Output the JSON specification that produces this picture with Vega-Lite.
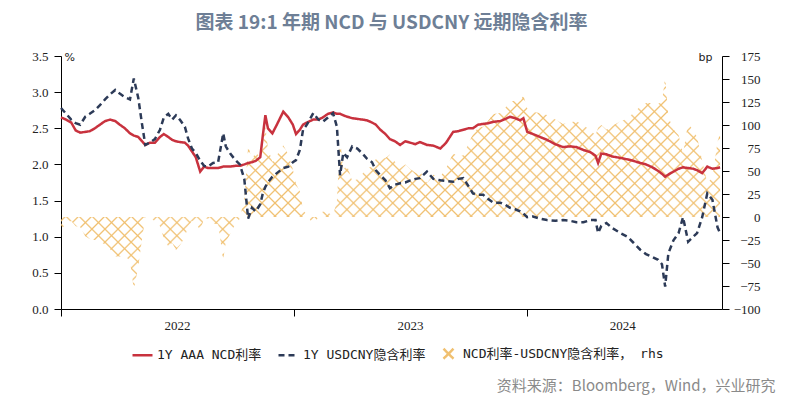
{
  "$schema": "https://vega.github.io/schema/vega-lite/v6.json",
  "width": 661,
  "height": 253,
  "autosize": {"type": "none"},
  "padding": {"left": 61, "top": 56, "right": 64, "bottom": 95},
  "background": "white",
  "title": {
    "text": "图表 19:1 年期 NCD 与 USDCNY 远期隐含利率",
    "anchor": "middle",
    "frame": "group",
    "font": "Noto Sans CJK SC",
    "fontSize": 19,
    "fontWeight": "bold",
    "color": "#6e7f96",
    "offset": 17
  },
  "config": {
    "view": {"stroke": null},
    "legend": {
      "orient": "none",
      "legendX": 70,
      "legendY": 286,
      "direction": "horizontal",
      "symbolType": "stroke",
      "symbolSize": 400,
      "symbolStrokeWidth": 2.5,
      "labelFont": "DejaVu Sans Mono, Noto Sans CJK SC",
      "labelFontSize": 13,
      "labelColor": "#222",
      "labelOffset": 3,
      "columnPadding": 11,
      "labelLimit": 400
    }
  },
  "data": {
    "values": [
      {"d":"2022-01-01","ncd":2.65,"usd":2.78,"spread":-13},
      {"d":"2022-01-09","ncd":2.62,"usd":2.70,"spread":-8},
      {"d":"2022-01-17","ncd":2.58,"usd":2.62,"spread":-4},
      {"d":"2022-01-24","ncd":2.47,"usd":2.57,"spread":-10},
      {"d":"2022-01-31","ncd":2.44,"usd":2.55,"spread":-11},
      {"d":"2022-02-08","ncd":2.45,"usd":2.66,"spread":-21},
      {"d":"2022-02-15","ncd":2.46,"usd":2.70,"spread":-24},
      {"d":"2022-02-23","ncd":2.50,"usd":2.75,"spread":-25},
      {"d":"2022-03-03","ncd":2.55,"usd":2.82,"spread":-27},
      {"d":"2022-03-11","ncd":2.60,"usd":2.90,"spread":-30},
      {"d":"2022-03-19","ncd":2.62,"usd":2.97,"spread":-35},
      {"d":"2022-03-27","ncd":2.60,"usd":3.03,"spread":-43},
      {"d":"2022-04-03","ncd":2.55,"usd":2.98,"spread":-43},
      {"d":"2022-04-11","ncd":2.50,"usd":2.93,"spread":-43},
      {"d":"2022-04-19","ncd":2.43,"usd":2.90,"spread":-47},
      {"d":"2022-04-25","ncd":2.40,"usd":3.19,"spread":-79},
      {"d":"2022-05-02","ncd":2.38,"usd":2.92,"spread":-54},
      {"d":"2022-05-08","ncd":2.32,"usd":2.55,"spread":-23},
      {"d":"2022-05-13","ncd":2.27,"usd":2.27,"spread":0},
      {"d":"2022-05-20","ncd":2.30,"usd":2.30,"spread":0},
      {"d":"2022-05-28","ncd":2.30,"usd":2.35,"spread":-5},
      {"d":"2022-06-05","ncd":2.38,"usd":2.48,"spread":-10},
      {"d":"2022-06-11","ncd":2.42,"usd":2.65,"spread":-23},
      {"d":"2022-06-18","ncd":2.38,"usd":2.70,"spread":-32},
      {"d":"2022-06-24","ncd":2.34,"usd":2.62,"spread":-28},
      {"d":"2022-06-30","ncd":2.32,"usd":2.68,"spread":-36},
      {"d":"2022-07-06","ncd":2.31,"usd":2.62,"spread":-31},
      {"d":"2022-07-14","ncd":2.30,"usd":2.52,"spread":-22},
      {"d":"2022-07-19","ncd":2.26,"usd":2.36,"spread":-10},
      {"d":"2022-07-25","ncd":2.18,"usd":2.22,"spread":-4},
      {"d":"2022-07-31","ncd":2.10,"usd":2.16,"spread":-6},
      {"d":"2022-08-07","ncd":1.90,"usd":2.05,"spread":-15},
      {"d":"2022-08-13","ncd":1.97,"usd":1.98,"spread":-1},
      {"d":"2022-08-19","ncd":1.95,"usd":1.97,"spread":-2},
      {"d":"2022-08-27","ncd":1.95,"usd":2.02,"spread":-7},
      {"d":"2022-09-04","ncd":1.95,"usd":2.03,"spread":-8},
      {"d":"2022-09-12","ncd":1.97,"usd":2.43,"spread":-46},
      {"d":"2022-09-16","ncd":1.97,"usd":2.25,"spread":-28},
      {"d":"2022-09-23","ncd":1.97,"usd":2.15,"spread":-18},
      {"d":"2022-10-01","ncd":1.98,"usd":2.06,"spread":-8},
      {"d":"2022-10-08","ncd":1.98,"usd":2.00,"spread":-2},
      {"d":"2022-10-15","ncd":2.00,"usd":1.80,"spread":20},
      {"d":"2022-10-21","ncd":2.02,"usd":1.25,"spread":77},
      {"d":"2022-10-27","ncd":2.03,"usd":1.40,"spread":63},
      {"d":"2022-11-02","ncd":2.05,"usd":1.35,"spread":70},
      {"d":"2022-11-09","ncd":2.10,"usd":1.45,"spread":65},
      {"d":"2022-11-13","ncd":2.40,"usd":1.60,"spread":80},
      {"d":"2022-11-17","ncd":2.68,"usd":1.69,"spread":99},
      {"d":"2022-11-21","ncd":2.50,"usd":1.75,"spread":75},
      {"d":"2022-11-28","ncd":2.43,"usd":1.83,"spread":60},
      {"d":"2022-12-05","ncd":2.55,"usd":1.88,"spread":67},
      {"d":"2022-12-15","ncd":2.73,"usd":1.95,"spread":78},
      {"d":"2022-12-23","ncd":2.65,"usd":1.97,"spread":68},
      {"d":"2022-12-30","ncd":2.55,"usd":2.03,"spread":52},
      {"d":"2023-01-04","ncd":2.42,"usd":2.06,"spread":36},
      {"d":"2023-01-10","ncd":2.48,"usd":2.20,"spread":28},
      {"d":"2023-01-15","ncd":2.55,"usd":2.48,"spread":7},
      {"d":"2023-01-21","ncd":2.58,"usd":2.55,"spread":3},
      {"d":"2023-01-31","ncd":2.62,"usd":2.71,"spread":-9},
      {"d":"2023-02-08","ncd":2.62,"usd":2.62,"spread":0},
      {"d":"2023-02-15","ncd":2.65,"usd":2.59,"spread":6},
      {"d":"2023-02-23","ncd":2.70,"usd":2.65,"spread":5},
      {"d":"2023-03-03","ncd":2.72,"usd":2.71,"spread":1},
      {"d":"2023-03-09","ncd":2.70,"usd":2.52,"spread":18},
      {"d":"2023-03-14","ncd":2.70,"usd":1.85,"spread":85},
      {"d":"2023-03-19","ncd":2.68,"usd":2.16,"spread":52},
      {"d":"2023-03-25","ncd":2.66,"usd":2.10,"spread":56},
      {"d":"2023-04-02","ncd":2.64,"usd":2.25,"spread":39},
      {"d":"2023-04-10","ncd":2.63,"usd":2.22,"spread":41},
      {"d":"2023-04-18","ncd":2.62,"usd":2.15,"spread":47},
      {"d":"2023-04-25","ncd":2.61,"usd":2.08,"spread":53},
      {"d":"2023-05-03","ncd":2.58,"usd":2.03,"spread":55},
      {"d":"2023-05-09","ncd":2.55,"usd":1.92,"spread":63},
      {"d":"2023-05-16","ncd":2.48,"usd":1.85,"spread":63},
      {"d":"2023-05-24","ncd":2.42,"usd":1.78,"spread":64},
      {"d":"2023-05-31","ncd":2.35,"usd":1.67,"spread":68},
      {"d":"2023-06-08","ncd":2.32,"usd":1.72,"spread":60},
      {"d":"2023-06-16","ncd":2.27,"usd":1.74,"spread":53},
      {"d":"2023-06-24","ncd":2.32,"usd":1.75,"spread":57},
      {"d":"2023-07-02","ncd":2.30,"usd":1.78,"spread":52},
      {"d":"2023-07-10","ncd":2.28,"usd":1.80,"spread":48},
      {"d":"2023-07-17","ncd":2.31,"usd":1.81,"spread":50},
      {"d":"2023-07-28","ncd":2.27,"usd":1.90,"spread":37},
      {"d":"2023-08-07","ncd":2.26,"usd":1.80,"spread":46},
      {"d":"2023-08-18","ncd":2.22,"usd":1.78,"spread":44},
      {"d":"2023-08-27","ncd":2.30,"usd":1.77,"spread":53},
      {"d":"2023-09-07","ncd":2.45,"usd":1.76,"spread":69},
      {"d":"2023-09-15","ncd":2.46,"usd":1.80,"spread":66},
      {"d":"2023-09-23","ncd":2.48,"usd":1.81,"spread":67},
      {"d":"2023-10-01","ncd":2.50,"usd":1.70,"spread":80},
      {"d":"2023-10-08","ncd":2.50,"usd":1.60,"spread":90},
      {"d":"2023-10-16","ncd":2.55,"usd":1.58,"spread":97},
      {"d":"2023-10-24","ncd":2.56,"usd":1.58,"spread":98},
      {"d":"2023-11-01","ncd":2.57,"usd":1.52,"spread":105},
      {"d":"2023-11-09","ncd":2.59,"usd":1.47,"spread":112},
      {"d":"2023-11-20","ncd":2.60,"usd":1.47,"spread":113},
      {"d":"2023-11-28","ncd":2.63,"usd":1.44,"spread":119},
      {"d":"2023-12-05","ncd":2.66,"usd":1.40,"spread":126},
      {"d":"2023-12-13","ncd":2.64,"usd":1.38,"spread":126},
      {"d":"2023-12-21","ncd":2.61,"usd":1.35,"spread":126},
      {"d":"2023-12-26","ncd":2.64,"usd":1.32,"spread":132},
      {"d":"2024-01-01","ncd":2.45,"usd":1.27,"spread":118},
      {"d":"2024-01-10","ncd":2.42,"usd":1.28,"spread":114},
      {"d":"2024-01-21","ncd":2.38,"usd":1.25,"spread":113},
      {"d":"2024-02-01","ncd":2.34,"usd":1.23,"spread":111},
      {"d":"2024-02-14","ncd":2.28,"usd":1.22,"spread":106},
      {"d":"2024-02-26","ncd":2.24,"usd":1.23,"spread":101},
      {"d":"2024-03-08","ncd":2.25,"usd":1.22,"spread":103},
      {"d":"2024-03-18","ncd":2.24,"usd":1.20,"spread":104},
      {"d":"2024-03-29","ncd":2.20,"usd":1.20,"spread":100},
      {"d":"2024-04-09","ncd":2.17,"usd":1.23,"spread":94},
      {"d":"2024-04-17","ncd":2.12,"usd":1.23,"spread":89},
      {"d":"2024-04-21","ncd":2.02,"usd":1.05,"spread":97},
      {"d":"2024-04-26","ncd":2.15,"usd":1.15,"spread":100},
      {"d":"2024-05-04","ncd":2.14,"usd":1.19,"spread":95},
      {"d":"2024-05-13","ncd":2.11,"usd":1.12,"spread":99},
      {"d":"2024-05-26","ncd":2.09,"usd":1.05,"spread":104},
      {"d":"2024-06-06","ncd":2.07,"usd":1.00,"spread":107},
      {"d":"2024-06-15","ncd":2.05,"usd":0.92,"spread":113},
      {"d":"2024-06-26","ncd":2.02,"usd":0.82,"spread":120},
      {"d":"2024-07-05","ncd":2.00,"usd":0.76,"spread":124},
      {"d":"2024-07-15","ncd":1.96,"usd":0.72,"spread":124},
      {"d":"2024-07-24","ncd":1.91,"usd":0.68,"spread":123},
      {"d":"2024-07-30","ncd":1.87,"usd":0.62,"spread":125},
      {"d":"2024-08-04","ncd":1.83,"usd":0.31,"spread":152},
      {"d":"2024-08-09","ncd":1.86,"usd":0.77,"spread":109},
      {"d":"2024-08-17","ncd":1.90,"usd":0.95,"spread":95},
      {"d":"2024-08-25","ncd":1.94,"usd":1.05,"spread":89},
      {"d":"2024-09-01","ncd":1.96,"usd":1.27,"spread":69},
      {"d":"2024-09-09","ncd":1.95,"usd":0.93,"spread":102},
      {"d":"2024-09-17","ncd":1.94,"usd":1.00,"spread":94},
      {"d":"2024-09-23","ncd":1.92,"usd":1.05,"spread":87},
      {"d":"2024-10-01","ncd":1.88,"usd":1.27,"spread":61},
      {"d":"2024-10-09","ncd":1.97,"usd":1.60,"spread":37},
      {"d":"2024-10-17","ncd":1.94,"usd":1.51,"spread":43},
      {"d":"2024-10-25","ncd":1.95,"usd":1.13,"spread":82},
      {"d":"2024-10-29","ncd":1.96,"usd":1.05,"spread":91}
    ]
  },
  "encoding": {
    "x": {
      "field": "d",
      "type": "temporal",
      "scale": {"domain": [{"year": 2022, "month": 1, "date": 1}, {"year": 2024, "month": 11, "date": 1}]},
      "axis": {
        "values": [{"year": 2022, "month": 1, "date": 1}, {"year": 2023, "month": 1, "date": 1}, {"year": 2024, "month": 1, "date": 1}],
        "format": "%Y",
        "labelFont": "Liberation Serif",
        "labelFontSize": 13,
        "labelColor": "#222",
        "labelPadding": 3,
        "labelAlign": "center",
        "labelFlush": false,
        "labelOverlap": false,
        "labelOffset": {"condition": {"test": "datum.value >= datetime(2024,0,1)", "value": 95}, "value": 116},
        "tickSize": 7,
        "tickColor": "#000",
        "domainColor": "#000",
        "grid": false,
        "title": "资料来源：Bloomberg，Wind，兴业研究",
        "titleX": 714,
        "titleY": 76,
        "titleAlign": "right",
        "titleAnchor": "end",
        "titleBaseline": "middle",
        "titleFont": "Noto Sans CJK SC",
        "titleFontSize": 15,
        "titleFontWeight": "normal",
        "titleColor": "#8a8a8a"
      }
    }
  },
  "layer": [
    {
      "mark": {
        "type": "area",
        "fill": {"gradient": "linear", "x1": 0, "y1": 1, "x2": 1.198, "y2": 0.613, "stops": [
          {"offset":0,"color":"#f0c070"},{"offset":0.002,"color":"rgba(240,192,112,0)"},{"offset":0.013,"color":"rgba(240,192,112,0)"},
          {"offset":0.015,"color":"#f0c070"},{"offset":0.017,"color":"rgba(240,192,112,0)"},{"offset":0.028,"color":"rgba(240,192,112,0)"},
          {"offset":0.03,"color":"#f0c070"},{"offset":0.032,"color":"rgba(240,192,112,0)"},{"offset":0.043,"color":"rgba(240,192,112,0)"},
          {"offset":0.045,"color":"#f0c070"},{"offset":0.047,"color":"rgba(240,192,112,0)"},{"offset":0.058,"color":"rgba(240,192,112,0)"},
          {"offset":0.06,"color":"#f0c070"},{"offset":0.062,"color":"rgba(240,192,112,0)"},{"offset":0.073,"color":"rgba(240,192,112,0)"},
          {"offset":0.075,"color":"#f0c070"},{"offset":0.077,"color":"rgba(240,192,112,0)"},{"offset":0.088,"color":"rgba(240,192,112,0)"},
          {"offset":0.09,"color":"#f0c070"},{"offset":0.092,"color":"rgba(240,192,112,0)"},{"offset":0.103,"color":"rgba(240,192,112,0)"},
          {"offset":0.105,"color":"#f0c070"},{"offset":0.107,"color":"rgba(240,192,112,0)"},{"offset":0.118,"color":"rgba(240,192,112,0)"},
          {"offset":0.12,"color":"#f0c070"},{"offset":0.122,"color":"rgba(240,192,112,0)"},{"offset":0.133,"color":"rgba(240,192,112,0)"},
          {"offset":0.135,"color":"#f0c070"},{"offset":0.137,"color":"rgba(240,192,112,0)"},{"offset":0.148,"color":"rgba(240,192,112,0)"},
          {"offset":0.15,"color":"#f0c070"},{"offset":0.152,"color":"rgba(240,192,112,0)"},{"offset":0.163,"color":"rgba(240,192,112,0)"},
          {"offset":0.165,"color":"#f0c070"},{"offset":0.167,"color":"rgba(240,192,112,0)"},{"offset":0.178,"color":"rgba(240,192,112,0)"},
          {"offset":0.18,"color":"#f0c070"},{"offset":0.182,"color":"rgba(240,192,112,0)"},{"offset":0.193,"color":"rgba(240,192,112,0)"},
          {"offset":0.195,"color":"#f0c070"},{"offset":0.197,"color":"rgba(240,192,112,0)"},{"offset":0.208,"color":"rgba(240,192,112,0)"},
          {"offset":0.21,"color":"#f0c070"},{"offset":0.212,"color":"rgba(240,192,112,0)"},{"offset":0.223,"color":"rgba(240,192,112,0)"},
          {"offset":0.225,"color":"#f0c070"},{"offset":0.227,"color":"rgba(240,192,112,0)"},{"offset":0.238,"color":"rgba(240,192,112,0)"},
          {"offset":0.24,"color":"#f0c070"},{"offset":0.242,"color":"rgba(240,192,112,0)"},{"offset":0.253,"color":"rgba(240,192,112,0)"},
          {"offset":0.255,"color":"#f0c070"},{"offset":0.257,"color":"rgba(240,192,112,0)"},{"offset":0.268,"color":"rgba(240,192,112,0)"},
          {"offset":0.27,"color":"#f0c070"},{"offset":0.272,"color":"rgba(240,192,112,0)"},{"offset":0.283,"color":"rgba(240,192,112,0)"},
          {"offset":0.285,"color":"#f0c070"},{"offset":0.287,"color":"rgba(240,192,112,0)"},{"offset":0.298,"color":"rgba(240,192,112,0)"},
          {"offset":0.3,"color":"#f0c070"},{"offset":0.302,"color":"rgba(240,192,112,0)"},{"offset":0.313,"color":"rgba(240,192,112,0)"},
          {"offset":0.315,"color":"#f0c070"},{"offset":0.317,"color":"rgba(240,192,112,0)"},{"offset":0.328,"color":"rgba(240,192,112,0)"},
          {"offset":0.33,"color":"#f0c070"},{"offset":0.332,"color":"rgba(240,192,112,0)"},{"offset":0.343,"color":"rgba(240,192,112,0)"},
          {"offset":0.345,"color":"#f0c070"},{"offset":0.347,"color":"rgba(240,192,112,0)"},{"offset":0.358,"color":"rgba(240,192,112,0)"},
          {"offset":0.36,"color":"#f0c070"},{"offset":0.362,"color":"rgba(240,192,112,0)"},{"offset":0.373,"color":"rgba(240,192,112,0)"},
          {"offset":0.375,"color":"#f0c070"},{"offset":0.377,"color":"rgba(240,192,112,0)"},{"offset":0.388,"color":"rgba(240,192,112,0)"},
          {"offset":0.39,"color":"#f0c070"},{"offset":0.392,"color":"rgba(240,192,112,0)"},{"offset":0.403,"color":"rgba(240,192,112,0)"},
          {"offset":0.405,"color":"#f0c070"},{"offset":0.407,"color":"rgba(240,192,112,0)"},{"offset":0.418,"color":"rgba(240,192,112,0)"},
          {"offset":0.42,"color":"#f0c070"},{"offset":0.422,"color":"rgba(240,192,112,0)"},{"offset":0.433,"color":"rgba(240,192,112,0)"},
          {"offset":0.435,"color":"#f0c070"},{"offset":0.437,"color":"rgba(240,192,112,0)"},{"offset":0.448,"color":"rgba(240,192,112,0)"},
          {"offset":0.45,"color":"#f0c070"},{"offset":0.452,"color":"rgba(240,192,112,0)"},{"offset":0.463,"color":"rgba(240,192,112,0)"},
          {"offset":0.465,"color":"#f0c070"},{"offset":0.467,"color":"rgba(240,192,112,0)"},{"offset":0.478,"color":"rgba(240,192,112,0)"},
          {"offset":0.48,"color":"#f0c070"},{"offset":0.482,"color":"rgba(240,192,112,0)"},{"offset":0.493,"color":"rgba(240,192,112,0)"},
          {"offset":0.495,"color":"#f0c070"},{"offset":0.497,"color":"rgba(240,192,112,0)"},{"offset":0.508,"color":"rgba(240,192,112,0)"},
          {"offset":0.51,"color":"#f0c070"},{"offset":0.512,"color":"rgba(240,192,112,0)"},{"offset":0.523,"color":"rgba(240,192,112,0)"},
          {"offset":0.525,"color":"#f0c070"},{"offset":0.527,"color":"rgba(240,192,112,0)"},{"offset":0.538,"color":"rgba(240,192,112,0)"},
          {"offset":0.54,"color":"#f0c070"},{"offset":0.542,"color":"rgba(240,192,112,0)"},{"offset":0.553,"color":"rgba(240,192,112,0)"},
          {"offset":0.555,"color":"#f0c070"},{"offset":0.557,"color":"rgba(240,192,112,0)"},{"offset":0.568,"color":"rgba(240,192,112,0)"},
          {"offset":0.57,"color":"#f0c070"},{"offset":0.572,"color":"rgba(240,192,112,0)"},{"offset":0.583,"color":"rgba(240,192,112,0)"},
          {"offset":0.585,"color":"#f0c070"},{"offset":0.587,"color":"rgba(240,192,112,0)"},{"offset":0.598,"color":"rgba(240,192,112,0)"},
          {"offset":0.6,"color":"#f0c070"},{"offset":0.602,"color":"rgba(240,192,112,0)"},{"offset":0.613,"color":"rgba(240,192,112,0)"},
          {"offset":0.615,"color":"#f0c070"},{"offset":0.617,"color":"rgba(240,192,112,0)"},{"offset":0.628,"color":"rgba(240,192,112,0)"},
          {"offset":0.63,"color":"#f0c070"},{"offset":0.632,"color":"rgba(240,192,112,0)"},{"offset":0.643,"color":"rgba(240,192,112,0)"},
          {"offset":0.645,"color":"#f0c070"},{"offset":0.647,"color":"rgba(240,192,112,0)"},{"offset":0.658,"color":"rgba(240,192,112,0)"},
          {"offset":0.66,"color":"#f0c070"},{"offset":0.662,"color":"rgba(240,192,112,0)"},{"offset":0.673,"color":"rgba(240,192,112,0)"},
          {"offset":0.675,"color":"#f0c070"},{"offset":0.677,"color":"rgba(240,192,112,0)"},{"offset":0.688,"color":"rgba(240,192,112,0)"},
          {"offset":0.69,"color":"#f0c070"},{"offset":0.692,"color":"rgba(240,192,112,0)"},{"offset":0.703,"color":"rgba(240,192,112,0)"},
          {"offset":0.705,"color":"#f0c070"},{"offset":0.707,"color":"rgba(240,192,112,0)"},{"offset":0.718,"color":"rgba(240,192,112,0)"},
          {"offset":0.72,"color":"#f0c070"},{"offset":0.722,"color":"rgba(240,192,112,0)"},{"offset":0.733,"color":"rgba(240,192,112,0)"},
          {"offset":0.735,"color":"#f0c070"},{"offset":0.737,"color":"rgba(240,192,112,0)"},{"offset":0.748,"color":"rgba(240,192,112,0)"},
          {"offset":0.75,"color":"#f0c070"},{"offset":0.752,"color":"rgba(240,192,112,0)"},{"offset":0.763,"color":"rgba(240,192,112,0)"},
          {"offset":0.765,"color":"#f0c070"},{"offset":0.767,"color":"rgba(240,192,112,0)"},{"offset":0.778,"color":"rgba(240,192,112,0)"},
          {"offset":0.78,"color":"#f0c070"},{"offset":0.782,"color":"rgba(240,192,112,0)"},{"offset":0.793,"color":"rgba(240,192,112,0)"},
          {"offset":0.795,"color":"#f0c070"},{"offset":0.797,"color":"rgba(240,192,112,0)"},{"offset":0.808,"color":"rgba(240,192,112,0)"},
          {"offset":0.81,"color":"#f0c070"},{"offset":0.812,"color":"rgba(240,192,112,0)"},{"offset":0.823,"color":"rgba(240,192,112,0)"},
          {"offset":0.825,"color":"#f0c070"},{"offset":0.827,"color":"rgba(240,192,112,0)"},{"offset":0.838,"color":"rgba(240,192,112,0)"},
          {"offset":0.84,"color":"#f0c070"},{"offset":0.842,"color":"rgba(240,192,112,0)"},{"offset":0.853,"color":"rgba(240,192,112,0)"},
          {"offset":0.855,"color":"#f0c070"},{"offset":0.857,"color":"rgba(240,192,112,0)"},{"offset":0.868,"color":"rgba(240,192,112,0)"},
          {"offset":0.87,"color":"#f0c070"},{"offset":0.872,"color":"rgba(240,192,112,0)"},{"offset":0.883,"color":"rgba(240,192,112,0)"},
          {"offset":0.885,"color":"#f0c070"},{"offset":0.887,"color":"rgba(240,192,112,0)"},{"offset":0.898,"color":"rgba(240,192,112,0)"},
          {"offset":0.9,"color":"#f0c070"},{"offset":0.902,"color":"rgba(240,192,112,0)"},{"offset":0.913,"color":"rgba(240,192,112,0)"},
          {"offset":0.915,"color":"#f0c070"},{"offset":0.917,"color":"rgba(240,192,112,0)"},{"offset":0.928,"color":"rgba(240,192,112,0)"},
          {"offset":0.93,"color":"#f0c070"},{"offset":0.932,"color":"rgba(240,192,112,0)"},{"offset":0.943,"color":"rgba(240,192,112,0)"},
          {"offset":0.945,"color":"#f0c070"},{"offset":0.947,"color":"rgba(240,192,112,0)"},{"offset":0.958,"color":"rgba(240,192,112,0)"},
          {"offset":0.96,"color":"#f0c070"},{"offset":0.962,"color":"rgba(240,192,112,0)"},{"offset":0.973,"color":"rgba(240,192,112,0)"},
          {"offset":0.975,"color":"#f0c070"},{"offset":0.977,"color":"rgba(240,192,112,0)"},{"offset":0.988,"color":"rgba(240,192,112,0)"},
          {"offset":0.99,"color":"#f0c070"},{"offset":0.992,"color":"rgba(240,192,112,0)"},{"offset":1,"color":"rgba(240,192,112,0)"}
        ]}
      },
      "encoding": {
        "y": {
          "field": "spread",
          "type": "quantitative",
          "scale": {"domain": [-100, 175], "nice": false, "zero": false},
          "axis": {
            "orient": "right",
            "values": [-100, -75, -50, -25, 0, 25, 50, 75, 100, 125, 150, 175],
            "labelFont": "Liberation Serif",
            "labelFontSize": 13,
            "labelColor": "#222",
            "labelAlign": "right",
            "labelPadding": 31,
            "tickSize": 7,
            "tickColor": "#000",
            "domainColor": "#000",
            "grid": false,
            "title": "bp",
            "titleAngle": 0,
            "titleX": -10,
            "titleY": 1,
            "titleAlign": "right",
            "titleBaseline": "middle",
            "titleFont": "DejaVu Sans",
            "titleFontSize": 11,
            "titleFontWeight": "normal",
            "titleColor": "#222"
          }
        }
      }
    },
    {
      "mark": {
        "type": "area",
        "fill": {"gradient": "linear", "x1": 0, "y1": 0, "x2": 1.198, "y2": 0.387, "stops": [
          {"offset":0,"color":"#f0c070"},{"offset":0.002,"color":"rgba(240,192,112,0)"},{"offset":0.013,"color":"rgba(240,192,112,0)"},
          {"offset":0.015,"color":"#f0c070"},{"offset":0.017,"color":"rgba(240,192,112,0)"},{"offset":0.028,"color":"rgba(240,192,112,0)"},
          {"offset":0.03,"color":"#f0c070"},{"offset":0.032,"color":"rgba(240,192,112,0)"},{"offset":0.043,"color":"rgba(240,192,112,0)"},
          {"offset":0.045,"color":"#f0c070"},{"offset":0.047,"color":"rgba(240,192,112,0)"},{"offset":0.058,"color":"rgba(240,192,112,0)"},
          {"offset":0.06,"color":"#f0c070"},{"offset":0.062,"color":"rgba(240,192,112,0)"},{"offset":0.073,"color":"rgba(240,192,112,0)"},
          {"offset":0.075,"color":"#f0c070"},{"offset":0.077,"color":"rgba(240,192,112,0)"},{"offset":0.088,"color":"rgba(240,192,112,0)"},
          {"offset":0.09,"color":"#f0c070"},{"offset":0.092,"color":"rgba(240,192,112,0)"},{"offset":0.103,"color":"rgba(240,192,112,0)"},
          {"offset":0.105,"color":"#f0c070"},{"offset":0.107,"color":"rgba(240,192,112,0)"},{"offset":0.118,"color":"rgba(240,192,112,0)"},
          {"offset":0.12,"color":"#f0c070"},{"offset":0.122,"color":"rgba(240,192,112,0)"},{"offset":0.133,"color":"rgba(240,192,112,0)"},
          {"offset":0.135,"color":"#f0c070"},{"offset":0.137,"color":"rgba(240,192,112,0)"},{"offset":0.148,"color":"rgba(240,192,112,0)"},
          {"offset":0.15,"color":"#f0c070"},{"offset":0.152,"color":"rgba(240,192,112,0)"},{"offset":0.163,"color":"rgba(240,192,112,0)"},
          {"offset":0.165,"color":"#f0c070"},{"offset":0.167,"color":"rgba(240,192,112,0)"},{"offset":0.178,"color":"rgba(240,192,112,0)"},
          {"offset":0.18,"color":"#f0c070"},{"offset":0.182,"color":"rgba(240,192,112,0)"},{"offset":0.193,"color":"rgba(240,192,112,0)"},
          {"offset":0.195,"color":"#f0c070"},{"offset":0.197,"color":"rgba(240,192,112,0)"},{"offset":0.208,"color":"rgba(240,192,112,0)"},
          {"offset":0.21,"color":"#f0c070"},{"offset":0.212,"color":"rgba(240,192,112,0)"},{"offset":0.223,"color":"rgba(240,192,112,0)"},
          {"offset":0.225,"color":"#f0c070"},{"offset":0.227,"color":"rgba(240,192,112,0)"},{"offset":0.238,"color":"rgba(240,192,112,0)"},
          {"offset":0.24,"color":"#f0c070"},{"offset":0.242,"color":"rgba(240,192,112,0)"},{"offset":0.253,"color":"rgba(240,192,112,0)"},
          {"offset":0.255,"color":"#f0c070"},{"offset":0.257,"color":"rgba(240,192,112,0)"},{"offset":0.268,"color":"rgba(240,192,112,0)"},
          {"offset":0.27,"color":"#f0c070"},{"offset":0.272,"color":"rgba(240,192,112,0)"},{"offset":0.283,"color":"rgba(240,192,112,0)"},
          {"offset":0.285,"color":"#f0c070"},{"offset":0.287,"color":"rgba(240,192,112,0)"},{"offset":0.298,"color":"rgba(240,192,112,0)"},
          {"offset":0.3,"color":"#f0c070"},{"offset":0.302,"color":"rgba(240,192,112,0)"},{"offset":0.313,"color":"rgba(240,192,112,0)"},
          {"offset":0.315,"color":"#f0c070"},{"offset":0.317,"color":"rgba(240,192,112,0)"},{"offset":0.328,"color":"rgba(240,192,112,0)"},
          {"offset":0.33,"color":"#f0c070"},{"offset":0.332,"color":"rgba(240,192,112,0)"},{"offset":0.343,"color":"rgba(240,192,112,0)"},
          {"offset":0.345,"color":"#f0c070"},{"offset":0.347,"color":"rgba(240,192,112,0)"},{"offset":0.358,"color":"rgba(240,192,112,0)"},
          {"offset":0.36,"color":"#f0c070"},{"offset":0.362,"color":"rgba(240,192,112,0)"},{"offset":0.373,"color":"rgba(240,192,112,0)"},
          {"offset":0.375,"color":"#f0c070"},{"offset":0.377,"color":"rgba(240,192,112,0)"},{"offset":0.388,"color":"rgba(240,192,112,0)"},
          {"offset":0.39,"color":"#f0c070"},{"offset":0.392,"color":"rgba(240,192,112,0)"},{"offset":0.403,"color":"rgba(240,192,112,0)"},
          {"offset":0.405,"color":"#f0c070"},{"offset":0.407,"color":"rgba(240,192,112,0)"},{"offset":0.418,"color":"rgba(240,192,112,0)"},
          {"offset":0.42,"color":"#f0c070"},{"offset":0.422,"color":"rgba(240,192,112,0)"},{"offset":0.433,"color":"rgba(240,192,112,0)"},
          {"offset":0.435,"color":"#f0c070"},{"offset":0.437,"color":"rgba(240,192,112,0)"},{"offset":0.448,"color":"rgba(240,192,112,0)"},
          {"offset":0.45,"color":"#f0c070"},{"offset":0.452,"color":"rgba(240,192,112,0)"},{"offset":0.463,"color":"rgba(240,192,112,0)"},
          {"offset":0.465,"color":"#f0c070"},{"offset":0.467,"color":"rgba(240,192,112,0)"},{"offset":0.478,"color":"rgba(240,192,112,0)"},
          {"offset":0.48,"color":"#f0c070"},{"offset":0.482,"color":"rgba(240,192,112,0)"},{"offset":0.493,"color":"rgba(240,192,112,0)"},
          {"offset":0.495,"color":"#f0c070"},{"offset":0.497,"color":"rgba(240,192,112,0)"},{"offset":0.508,"color":"rgba(240,192,112,0)"},
          {"offset":0.51,"color":"#f0c070"},{"offset":0.512,"color":"rgba(240,192,112,0)"},{"offset":0.523,"color":"rgba(240,192,112,0)"},
          {"offset":0.525,"color":"#f0c070"},{"offset":0.527,"color":"rgba(240,192,112,0)"},{"offset":0.538,"color":"rgba(240,192,112,0)"},
          {"offset":0.54,"color":"#f0c070"},{"offset":0.542,"color":"rgba(240,192,112,0)"},{"offset":0.553,"color":"rgba(240,192,112,0)"},
          {"offset":0.555,"color":"#f0c070"},{"offset":0.557,"color":"rgba(240,192,112,0)"},{"offset":0.568,"color":"rgba(240,192,112,0)"},
          {"offset":0.57,"color":"#f0c070"},{"offset":0.572,"color":"rgba(240,192,112,0)"},{"offset":0.583,"color":"rgba(240,192,112,0)"},
          {"offset":0.585,"color":"#f0c070"},{"offset":0.587,"color":"rgba(240,192,112,0)"},{"offset":0.598,"color":"rgba(240,192,112,0)"},
          {"offset":0.6,"color":"#f0c070"},{"offset":0.602,"color":"rgba(240,192,112,0)"},{"offset":0.613,"color":"rgba(240,192,112,0)"},
          {"offset":0.615,"color":"#f0c070"},{"offset":0.617,"color":"rgba(240,192,112,0)"},{"offset":0.628,"color":"rgba(240,192,112,0)"},
          {"offset":0.63,"color":"#f0c070"},{"offset":0.632,"color":"rgba(240,192,112,0)"},{"offset":0.643,"color":"rgba(240,192,112,0)"},
          {"offset":0.645,"color":"#f0c070"},{"offset":0.647,"color":"rgba(240,192,112,0)"},{"offset":0.658,"color":"rgba(240,192,112,0)"},
          {"offset":0.66,"color":"#f0c070"},{"offset":0.662,"color":"rgba(240,192,112,0)"},{"offset":0.673,"color":"rgba(240,192,112,0)"},
          {"offset":0.675,"color":"#f0c070"},{"offset":0.677,"color":"rgba(240,192,112,0)"},{"offset":0.688,"color":"rgba(240,192,112,0)"},
          {"offset":0.69,"color":"#f0c070"},{"offset":0.692,"color":"rgba(240,192,112,0)"},{"offset":0.703,"color":"rgba(240,192,112,0)"},
          {"offset":0.705,"color":"#f0c070"},{"offset":0.707,"color":"rgba(240,192,112,0)"},{"offset":0.718,"color":"rgba(240,192,112,0)"},
          {"offset":0.72,"color":"#f0c070"},{"offset":0.722,"color":"rgba(240,192,112,0)"},{"offset":0.733,"color":"rgba(240,192,112,0)"},
          {"offset":0.735,"color":"#f0c070"},{"offset":0.737,"color":"rgba(240,192,112,0)"},{"offset":0.748,"color":"rgba(240,192,112,0)"},
          {"offset":0.75,"color":"#f0c070"},{"offset":0.752,"color":"rgba(240,192,112,0)"},{"offset":0.763,"color":"rgba(240,192,112,0)"},
          {"offset":0.765,"color":"#f0c070"},{"offset":0.767,"color":"rgba(240,192,112,0)"},{"offset":0.778,"color":"rgba(240,192,112,0)"},
          {"offset":0.78,"color":"#f0c070"},{"offset":0.782,"color":"rgba(240,192,112,0)"},{"offset":0.793,"color":"rgba(240,192,112,0)"},
          {"offset":0.795,"color":"#f0c070"},{"offset":0.797,"color":"rgba(240,192,112,0)"},{"offset":0.808,"color":"rgba(240,192,112,0)"},
          {"offset":0.81,"color":"#f0c070"},{"offset":0.812,"color":"rgba(240,192,112,0)"},{"offset":0.823,"color":"rgba(240,192,112,0)"},
          {"offset":0.825,"color":"#f0c070"},{"offset":0.827,"color":"rgba(240,192,112,0)"},{"offset":0.838,"color":"rgba(240,192,112,0)"},
          {"offset":0.84,"color":"#f0c070"},{"offset":0.842,"color":"rgba(240,192,112,0)"},{"offset":0.853,"color":"rgba(240,192,112,0)"},
          {"offset":0.855,"color":"#f0c070"},{"offset":0.857,"color":"rgba(240,192,112,0)"},{"offset":0.868,"color":"rgba(240,192,112,0)"},
          {"offset":0.87,"color":"#f0c070"},{"offset":0.872,"color":"rgba(240,192,112,0)"},{"offset":0.883,"color":"rgba(240,192,112,0)"},
          {"offset":0.885,"color":"#f0c070"},{"offset":0.887,"color":"rgba(240,192,112,0)"},{"offset":0.898,"color":"rgba(240,192,112,0)"},
          {"offset":0.9,"color":"#f0c070"},{"offset":0.902,"color":"rgba(240,192,112,0)"},{"offset":0.913,"color":"rgba(240,192,112,0)"},
          {"offset":0.915,"color":"#f0c070"},{"offset":0.917,"color":"rgba(240,192,112,0)"},{"offset":0.928,"color":"rgba(240,192,112,0)"},
          {"offset":0.93,"color":"#f0c070"},{"offset":0.932,"color":"rgba(240,192,112,0)"},{"offset":0.943,"color":"rgba(240,192,112,0)"},
          {"offset":0.945,"color":"#f0c070"},{"offset":0.947,"color":"rgba(240,192,112,0)"},{"offset":0.958,"color":"rgba(240,192,112,0)"},
          {"offset":0.96,"color":"#f0c070"},{"offset":0.962,"color":"rgba(240,192,112,0)"},{"offset":0.973,"color":"rgba(240,192,112,0)"},
          {"offset":0.975,"color":"#f0c070"},{"offset":0.977,"color":"rgba(240,192,112,0)"},{"offset":0.988,"color":"rgba(240,192,112,0)"},
          {"offset":0.99,"color":"#f0c070"},{"offset":0.992,"color":"rgba(240,192,112,0)"},{"offset":1,"color":"rgba(240,192,112,0)"}
        ]}
      },
      "encoding": {
        "y": {
          "field": "spread",
          "type": "quantitative",
          "scale": {"domain": [-100, 175], "nice": false, "zero": false},
          "axis": null
        }
      }
    },
    {
      "transform": [{"fold": ["ncd", "usd"], "as": ["series", "val"]}],
      "mark": {"type": "line", "strokeWidth": 2.5},
      "encoding": {
        "y": {
          "field": "val",
          "type": "quantitative",
          "scale": {"domain": [0, 3.5], "nice": false, "zero": false},
          "axis": {
            "orient": "left",
            "values": [0, 0.5, 1, 1.5, 2, 2.5, 3, 3.5],
            "format": ".1f",
            "labelFont": "Liberation Serif",
            "labelFontSize": 13,
            "labelColor": "#222",
            "labelPadding": 6,
            "tickSize": 7,
            "tickColor": "#000",
            "domainColor": "#000",
            "grid": false,
            "title": "%",
            "titleAngle": 0,
            "titleX": 3,
            "titleY": 1,
            "titleAlign": "left",
            "titleBaseline": "middle",
            "titleFont": "DejaVu Sans",
            "titleFontSize": 11,
            "titleFontWeight": "normal",
            "titleColor": "#222"
          }
        },
        "color": {
          "field": "series",
          "type": "nominal",
          "scale": {"domain": ["ncd", "usd", "spread"], "range": ["#c8323e", "#2c3a57", "#f0c070"]},
          "legend": {
            "title": null,
            "labelExpr": "datum.value === 'ncd' ? '1Y AAA NCD利率' : datum.value === 'usd' ? '1Y USDCNY隐含利率' : 'NCD利率-USDCNY隐含利率， rhs'",
            "encode": {"symbols": {"update": {"shape": {"signal": "datum.value === 'spread' ? 'M-0.5,-0.5L0.5,0.5M0.5,-0.5L-0.5,0.5' : 'stroke'"}}}}
          }
        },
        "strokeDash": {
          "field": "series",
          "type": "nominal",
          "scale": {"domain": ["ncd", "usd", "spread"], "range": [[1, 0], [6, 4], [1, 0]]},
          "legend": {
            "title": null,
            "labelExpr": "datum.value === 'ncd' ? '1Y AAA NCD利率' : datum.value === 'usd' ? '1Y USDCNY隐含利率' : 'NCD利率-USDCNY隐含利率， rhs'",
            "encode": {"symbols": {"update": {"shape": {"signal": "datum.value === 'spread' ? 'M-0.5,-0.5L0.5,0.5M0.5,-0.5L-0.5,0.5' : 'stroke'"}}}}
          }
        }
      }
    }
  ],
  "resolve": {"scale": {"y": "independent"}}
}
